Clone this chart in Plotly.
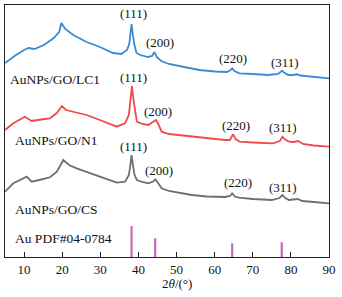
import plotly.graph_objects as go

# ---- data (2theta in degrees, intensity in arbitrary offset units) ----
lc1_x = [5, 7.5, 10, 11.2, 12.7, 15.2, 17.8, 19.2, 19.8, 20.8, 22.9, 26.4, 29.9, 33.3, 35.5, 37.0,
         37.6, 38.0, 38.2, 38.5, 38.9, 39.5, 40.5, 42.5, 43.6, 44.2, 44.8, 46.0, 48.0, 52, 56, 60,
         63.2, 64.2, 64.6, 65.2, 66.5, 70, 74, 76.6, 77.4, 77.7, 78.2, 79.3, 80.5, 81.6, 82.5, 85, 90]
lc1_y = [194, 201, 207, 209, 208, 212, 219, 225, 234, 228, 222, 215, 210, 204, 203, 207,
         213, 225, 233, 224, 213, 204, 202, 200, 201, 205, 200, 196, 193, 190, 187, 185.5,
         185, 187, 188.7, 186, 183.7, 183, 182, 183, 185, 186.3, 184.5, 182, 182, 182.7, 181.5, 180.5, 178.7]

n1_x = [5, 7.2, 10.2, 12.0, 14.5, 16.8, 18.6, 19.9, 21.0, 22.8, 26.4, 29.9, 34.3, 36.5, 37.5, 37.9,
        38.3, 38.7, 39.1, 39.6, 41, 42.6, 43.8, 44.6, 45.2, 46.1, 48, 54, 62.7, 64.0, 64.8, 65.5,
        66.6, 70, 75.3, 77.1, 77.8, 78.5, 79.5, 80.8, 81.9, 83.2, 86, 90]
n1_y = [127, 133.7, 140.3, 136, 137.5, 138.7, 144, 151, 147, 145.3, 142, 137, 130.3, 133.7, 142, 157,
        171, 157, 145, 135.3, 133, 132, 135, 137, 133, 125.3, 123, 120.3, 117, 117, 122.7, 118,
        115.3, 114.5, 113.7, 116, 120.3, 117.5, 115.3, 115, 116, 113, 111.5, 110.3]

cs_x = [5, 7.2, 10.7, 12.0, 14.5, 16.8, 18.6, 20.3, 21.8, 23.8, 29.9, 34.3, 36.5, 37.5, 37.9, 38.2,
        38.6, 39.0, 39.6, 41, 42.6, 43.9, 44.5, 45.1, 46.1, 48, 54, 58, 62.7, 64.0, 64.6, 65.3,
        66.4, 70, 75, 77, 77.8, 78.5, 79.5, 81.8, 83, 86, 90]
cs_y = [65.3, 73.7, 80.3, 75.3, 77.5, 79.7, 85.3, 97, 92, 88.7, 80.3, 74.3, 75.3, 82, 92, 102,
        91, 82, 77, 75, 73.7, 75.5, 77.7, 74, 68.7, 66, 62, 60.5, 60, 61, 63.7, 60.5,
        59.3, 58, 57, 59, 62, 59, 57, 58, 56, 55, 53.7]

pdf_x = [38.2, 44.4, 64.6, 77.6]
pdf_y = [31, 18.7, 13.7, 14.7]

series_names = ["AuNPs/GO/LC1", "AuNPs/GO/N1", "AuNPs/GO/CS"]
ref_name = "Au PDF#04-0784"
hkl_labels = ["(111)", "(200)", "(220)", "(311)"]
x_ticks = [10, 20, 30, 40, 50, 60, 70, 80, 90]

# ---- label placement (layout) ----
series_label_pos = [(5.8, 178), (7.0, 117), (7.1, 48)]
ref_label_pos = (7.1, 19)
hkl_pos = [
    [(38.6, 244), (45.7, 215), (64.8, 199), (78.4, 195)],
    [(38.6, 180), (45.1, 146), (65.6, 132), (77.8, 130)],
    [(38.8, 111), (45.3, 87), (66.1, 75), (77.9, 70)],
]

colors = ["#3b8ad4", "#ef4a4c", "#6f6f6f"]
stick_color = "#c868b8"
FONT = "Liberation Serif"

fig = go.Figure()
for xs, ys, c, nm in zip([lc1_x, n1_x, cs_x], [lc1_y, n1_y, cs_y], colors, series_names):
    fig.add_trace(go.Scatter(x=xs, y=ys, mode="lines", name=nm,
                             line=dict(color=c, width=1.8), showlegend=False))

# reference sticks
stick_x, stick_y = [], []
for px, py in zip(pdf_x, pdf_y):
    stick_x += [px, px, None]
    stick_y += [0, py, None]
fig.add_trace(go.Scatter(x=stick_x, y=stick_y, mode="lines", name=ref_name,
                         line=dict(color=stick_color, width=2.2), showlegend=False))

ann = []
for nm, (ax, ay) in zip(series_names, series_label_pos):
    ann.append(dict(x=ax, y=ay, text=nm, xanchor="left", yanchor="middle", showarrow=False,
                    font=dict(family=FONT, size=13.5, color="#111")))
ann.append(dict(x=ref_label_pos[0], y=ref_label_pos[1], text=ref_name, xanchor="left",
                yanchor="middle", showarrow=False, font=dict(family=FONT, size=13.5, color="#111")))
for row in hkl_pos:
    for lab, (ax, ay) in zip(hkl_labels, row):
        ann.append(dict(x=ax, y=ay, text=lab, xanchor="center", yanchor="middle", showarrow=False,
                        font=dict(family=FONT, size=13, color="#111")))
ann.append(dict(x=0.53, y=-0.107, xref="paper", yref="paper", text="2<i>θ</i>/(°)",
                xanchor="center", yanchor="middle", showarrow=False,
                font=dict(family=FONT, size=13, color="#111")))

fig.update_layout(
    width=342, height=297,
    margin=dict(l=5, r=13, t=5, b=40),
    plot_bgcolor="white", paper_bgcolor="white",
    annotations=ann,
    font=dict(family=FONT, size=13, color="#111"),
)
fig.update_xaxes(range=[5, 90], tickvals=x_ticks, ticks="inside", ticklen=5, tickwidth=1,
                 tickcolor="#222", showline=True, linecolor="#222", linewidth=1.2, mirror=True,
                 showgrid=False, zeroline=False, tickfont=dict(family=FONT, size=13, color="#111"))
fig.update_yaxes(range=[0, 252], showticklabels=False, ticks="", showline=True, linecolor="#222",
                 linewidth=1.2, mirror=True, showgrid=False, zeroline=False)

fig.write_html("out.html",
               config={"displayModeBar": False},
               post_script="document.body.style.margin='0';document.body.style.padding='0';"
                           "document.body.style.overflow='hidden';")
